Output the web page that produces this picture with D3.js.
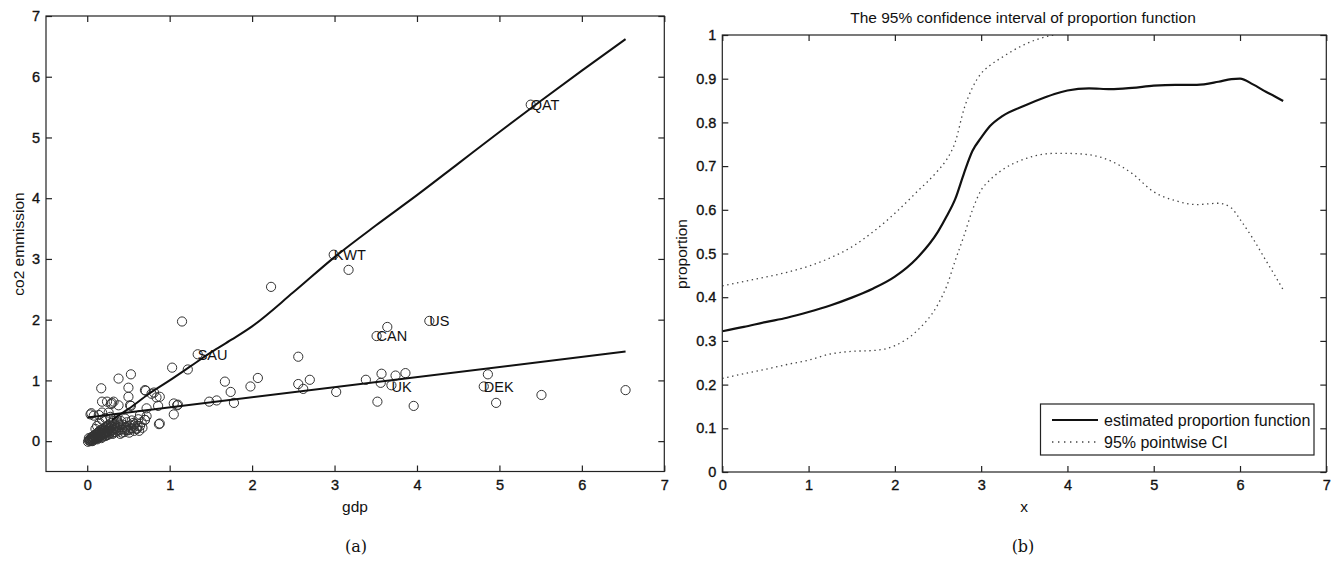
<!DOCTYPE html>
<html>
<head>
<meta charset="utf-8">
<script src="https://cdn.jsdelivr.net/npm/d3@7"></script>
<style>
  html, body { margin: 0; padding: 0; background: #fff; }
  svg { display: block; }
  text { font-family: "Liberation Sans", Arial, Helvetica, sans-serif; fill: #111; }
  .caption { font-family: "DejaVu Serif", "Liberation Serif", serif; }
</style>
</head>
<body>
<svg id="fig" width="1335" height="568"></svg>
<script>
// ---------- panel (a): per-capita GDP vs CO2 emission ----------
const gdp = [
  5.38, 2.99, 3.17, 2.23, 1.15, 1.34, 4.15, 3.64, 3.51, 2.56,
  1.03, 1.22, 0.53, 0.38, 1.67, 2.07, 1.98, 1.74, 1.78, 2.56,
  2.70, 2.62, 3.02, 3.38, 3.57, 3.56, 3.74, 3.86, 3.69, 3.52,
  3.96, 4.86, 4.81, 4.96, 5.51, 6.53, 0.17, 0.18, 0.50, 0.71,
  0.81, 0.88, 1.05, 1.05, 0.87, 1.48, 1.57, 0.32, 0.29, 0.53,
  0.04, 0.05, 0.18, 0.24, 0.30, 0.38, 0.52, 0.50, 0.70, 0.78,
  0.84, 0.86, 0.72, 0.70, 0.88, 1.09, 0.64, 0.56, 0.48, 0.60,
  0.08, 0.14, 0.26, 1.10,
  0.01, 0.02, 0.03, 0.02, 0.04, 0.05, 0.05, 0.06, 0.07, 0.07,
  0.08, 0.09, 0.09, 0.10, 0.11, 0.11, 0.12, 0.13, 0.13, 0.14,
  0.15, 0.15, 0.16, 0.17, 0.18, 0.18, 0.19, 0.20, 0.20, 0.21,
  0.22, 0.23, 0.23, 0.24, 0.25, 0.26, 0.26, 0.27, 0.28, 0.29,
  0.30, 0.30, 0.31, 0.32, 0.33, 0.34, 0.35, 0.36, 0.37, 0.38,
  0.39, 0.40, 0.41, 0.42, 0.43, 0.45, 0.46, 0.47, 0.48, 0.50,
  0.52, 0.54, 0.55, 0.58, 0.60, 0.62, 0.64, 0.66, 0.70, 0.72,
  0.12, 0.15, 0.18, 0.22, 0.28, 0.10,
  0.03, 0.04, 0.06, 0.06, 0.08, 0.08, 0.10, 0.10, 0.12, 0.12,
  0.14, 0.14, 0.16, 0.16, 0.17, 0.19, 0.19, 0.21, 0.21, 0.22,
  0.24, 0.24, 0.25, 0.27, 0.27, 0.29, 0.29, 0.31, 0.32, 0.33,
  0.35, 0.36, 0.37, 0.39, 0.40, 0.42, 0.44, 0.46, 0.49, 0.51,
  0.53, 0.56, 0.57, 0.61, 0.63, 0.67
];
const co2 = [
  5.54, 3.07, 2.82, 2.54, 1.97, 1.43, 1.98, 1.88, 1.73, 1.39,
  1.21, 1.18, 1.10, 1.03, 0.98, 1.04, 0.90, 0.81, 0.63, 0.94,
  1.01, 0.86, 0.81, 1.01, 1.11, 0.96, 1.08, 1.12, 0.92, 0.65,
  0.58, 1.10, 0.90, 0.63, 0.76, 0.84, 0.87, 0.65, 0.88, 0.83,
  0.80, 0.73, 0.62, 0.44, 0.28, 0.65, 0.67, 0.65, 0.61, 0.58,
  0.44, 0.46, 0.47, 0.65, 0.63, 0.59, 0.59, 0.73, 0.84, 0.78,
  0.72, 0.58, 0.54, 0.35, 0.29, 0.59, 0.43, 0.26, 0.18, 0.21,
  0.42, 0.43, 0.47, 0.60,
  -0.01, 0.01, 0.03, 0.05, 0.00, 0.02, 0.06, 0.04, 0.01, 0.08,
  0.05, 0.03, 0.10, 0.07, 0.04, 0.12, 0.09, 0.06, 0.14, 0.11,
  0.08, 0.16, 0.13, 0.10, 0.18, 0.07, 0.14, 0.11, 0.21, 0.17,
  0.13, 0.24, 0.09, 0.19, 0.15, 0.27, 0.11, 0.22, 0.17, 0.30,
  0.13, 0.24, 0.19, 0.33, 0.15, 0.26, 0.21, 0.36, 0.17, 0.29,
  0.23, 0.12, 0.33, 0.19, 0.27, 0.15, 0.37, 0.22, 0.31, 0.18,
  0.26, 0.34, 0.21, 0.28, 0.20, 0.36, 0.25, 0.31, 0.35, 0.41,
  0.25, 0.30, 0.35, 0.38, 0.40, 0.20,
  0.01, 0.03, 0.00, 0.07, 0.03, 0.09, 0.05, 0.11, 0.03, 0.13,
  0.06, 0.15, 0.09, 0.18, 0.05, 0.11, 0.20, 0.08, 0.14, 0.22,
  0.10, 0.17, 0.25, 0.13, 0.20, 0.16, 0.24, 0.12, 0.21, 0.28,
  0.15, 0.24, 0.31, 0.18, 0.27, 0.14, 0.23, 0.19, 0.25, 0.14,
  0.21, 0.30, 0.17, 0.25, 0.17, 0.22
];

// labelled countries
const countryNames = ["QAT", "KWT", "SAU", "CAN", "US", "UK", "DEK"];
const countryGdp   = [5.38, 2.99, 1.34, 3.51, 4.15, 3.69, 4.81];
const countryCo2   = [5.54, 3.07, 1.43, 1.73, 1.98, 0.90, 0.90];

// the two fitted regression curves
const fitHighX = [0.30, 0.50, 0.75, 1.00, 1.25, 1.50, 1.75, 2.00, 2.50, 3.00, 3.50, 4.00, 4.50, 5.00, 5.50, 6.00, 6.53];
const fitHighY = [0.35, 0.53, 0.78, 1.00, 1.23, 1.46, 1.67, 1.89, 2.45, 3.03, 3.55, 4.05, 4.57, 5.09, 5.60, 6.10, 6.62];
const fitLowX  = [0.00, 6.53];
const fitLowY  = [0.39, 1.475];

const ticksA = [0, 1, 2, 3, 4, 5, 6, 7];

// ---------- panel (b): estimated proportion with pointwise CI ----------
const gridX = [0, 0.25, 0.5, 0.75, 1, 1.25, 1.5, 1.75, 2, 2.25, 2.5, 2.6, 2.7, 2.8, 2.9, 3, 3.1, 3.25, 3.5, 3.75, 3.85,
               4, 4.25, 4.5, 4.75, 5, 5.25, 5.5, 5.75, 5.9, 6, 6.15, 6.3, 6.4, 6.5];
const estimate = [0.322, 0.332, 0.343, 0.353, 0.366, 0.381, 0.399, 0.420, 0.447, 0.488, 0.550, 0.585, 0.625, 0.683, 0.735,
                  0.765, 0.791, 0.815, 0.838, 0.858, 0.865,
                  0.873, 0.878, 0.876, 0.879, 0.884, 0.886, 0.886, 0.893, 0.899, 0.900, 0.887, 0.870, 0.860, 0.849];
const upperCI = [0.426, 0.436, 0.446, 0.457, 0.471, 0.490, 0.515, 0.550, 0.592, 0.640, 0.690, 0.715, 0.755, 0.830, 0.880,
                 0.912, 0.930, 0.950, 0.978, 0.996, 1.000,
                 null, null, null, null, null, null, null, null, null, null, null, null, null, null];
const lowerCI = [0.214, 0.225, 0.235, 0.246, 0.256, 0.270, 0.276, 0.278, 0.289, 0.322, 0.384, 0.425, 0.484, 0.540, 0.600,
                 0.645, 0.668, 0.692, 0.716, 0.728, 0.729,
                 0.729, 0.726, 0.712, 0.683, 0.641, 0.621, 0.612, 0.615, 0.604, 0.578, 0.534, 0.484, 0.451, 0.417];
const ticksBX = [0, 1, 2, 3, 4, 5, 6, 7];
const ticksBY = [0, 0.1, 0.2, 0.3, 0.4, 0.5, 0.6, 0.7, 0.8, 0.9, 1];

const svg = d3.select("#fig");
const TICK = 6;

// MATLAB-style boxed axes: inward ticks on all four sides
function boxAxes(g, x, y, xt, yt, yFmt) {
  const [x0, x1] = x.range();
  const [y0, y1] = y.range();
  g.append("g").attr("transform", `translate(0,${y0})`)
    .call(d3.axisBottom(x).tickValues(xt).tickSize(-TICK).tickSizeOuter(0).tickPadding(8).tickFormat(d3.format("d")));
  g.append("g").attr("transform", `translate(0,${y1})`)
    .call(d3.axisTop(x).tickValues(xt).tickSize(-TICK).tickSizeOuter(0).tickFormat(""));
  g.append("g").attr("transform", `translate(${x0},0)`)
    .call(d3.axisLeft(y).tickValues(yt).tickSize(-TICK).tickSizeOuter(0).tickPadding(6).tickFormat(yFmt));
  g.append("g").attr("transform", `translate(${x1},0)`)
    .call(d3.axisRight(y).tickValues(yt).tickSize(-TICK).tickSizeOuter(0).tickFormat(""));
  g.selectAll(".domain").remove();
  g.selectAll(".tick line").attr("stroke", "#222").attr("stroke-width", 1.2);
  g.selectAll(".tick text").attr("font-size", 14.5).attr("fill", "#111")
    .attr("stroke", "#111").attr("stroke-width", 0.35)
    .style("font-family", '"Liberation Sans", Arial, sans-serif');
  g.append("rect").attr("x", x0).attr("y", y1).attr("width", x1 - x0).attr("height", y0 - y1)
    .attr("fill", "none").attr("stroke", "#222").attr("stroke-width", 1.2);
}

// ---- panel (a)
const xA = d3.scaleLinear().domain([-0.5, 7]).range([46, 664.3]);
const yA = d3.scaleLinear().domain([-0.5, 7]).range([471.5, 16]);
const gA = svg.append("g");

const pts = gdp.map((v, i) => [v, co2[i]]);
gA.append("g").selectAll("circle").data(pts).join("circle")
  .attr("cx", d => xA(d[0])).attr("cy", d => yA(d[1])).attr("r", 4.6)
  .attr("fill", "none").attr("stroke", "#333").attr("stroke-width", 1);

const lineA = d3.line().x(d => xA(d[0])).y(d => yA(d[1])).curve(d3.curveMonotoneX);
gA.append("path").datum(fitHighX.map((v, i) => [v, fitHighY[i]])).attr("d", lineA)
  .attr("fill", "none").attr("stroke", "#111").attr("stroke-width", 2);
gA.append("path").datum(fitLowX.map((v, i) => [v, fitLowY[i]])).attr("d", lineA)
  .attr("fill", "none").attr("stroke", "#111").attr("stroke-width", 2);

gA.append("g").selectAll("text").data(countryNames).join("text")
  .attr("x", (d, i) => xA(countryGdp[i]))
  .attr("y", (d, i) => yA(countryCo2[i]))
  .attr("dy", "0.36em").attr("font-size", 14.5).text(d => d);

boxAxes(gA, xA, yA, ticksA, ticksA, d3.format("d"));

gA.append("text").attr("x", 355).attr("y", 512).attr("text-anchor", "middle").attr("font-size", 15.5).text("gdp");
gA.append("text").attr("transform", "translate(24,244) rotate(-90)").attr("text-anchor", "middle")
  .attr("font-size", 15.5).text("co2 emmission");
gA.append("text").attr("class", "caption").attr("x", 356).attr("y", 552).attr("text-anchor", "middle")
  .attr("font-size", 16).text("(a)");

// ---- panel (b)
const xB = d3.scaleLinear().domain([0, 7]).range([722.3, 1326.3]);
const yB = d3.scaleLinear().domain([0, 1]).range([472, 35]);
const gB = svg.append("g");

gB.append("defs").append("clipPath").attr("id", "clipB").append("rect")
  .attr("x", 722.3).attr("y", 35).attr("width", 604).attr("height", 437);

const lineB = d3.line().defined(d => d[1] !== null)
  .x(d => xB(d[0])).y(d => yB(d[1])).curve(d3.curveMonotoneX);
const plotB = gB.append("g").attr("clip-path", "url(#clipB)");
[upperCI, lowerCI].forEach(s => {
  plotB.append("path").datum(gridX.map((v, i) => [v, s[i]])).attr("d", lineB)
    .attr("fill", "none").attr("stroke", "#444").attr("stroke-width", 1.3).attr("stroke-dasharray", "1.4,3.6");
});
plotB.append("path").datum(gridX.map((v, i) => [v, estimate[i]])).attr("d", lineB)
  .attr("fill", "none").attr("stroke", "#111").attr("stroke-width", 2.2);

boxAxes(gB, xB, yB, ticksBX, ticksBY, d => d3.format("")(+d.toFixed(1)));

gB.append("text").attr("x", 1023).attr("y", 23).attr("text-anchor", "middle").attr("font-size", 15.5)
  .text("The 95% confidence interval of proportion function");
gB.append("text").attr("x", 1024).attr("y", 512).attr("text-anchor", "middle").attr("font-size", 15.5).text("x");
gB.append("text").attr("transform", "translate(687,254) rotate(-90)").attr("text-anchor", "middle")
  .attr("font-size", 15.5).text("proportion");
gB.append("text").attr("class", "caption").attr("x", 1023).attr("y", 552).attr("text-anchor", "middle")
  .attr("font-size", 16).text("(b)");

// legend
const legend = gB.append("g");
legend.append("rect").attr("x", 1040.5).attr("y", 404).attr("width", 273.5).attr("height", 51)
  .attr("fill", "#fff").attr("stroke", "#222").attr("stroke-width", 1.2);
const legendItems = [
  { label: "estimated proportion function", dash: null, width: 2.2, color: "#111" },
  { label: "95% pointwise CI", dash: "1.4,4.6", width: 1.3, color: "#444" }
];
legendItems.forEach((it, i) => {
  const yy = 420 + i * 22;
  legend.append("line").attr("x1", 1052).attr("x2", 1098).attr("y1", yy).attr("y2", yy)
    .attr("stroke", it.color).attr("stroke-width", it.width)
    .attr("stroke-dasharray", it.dash);
  legend.append("text").attr("x", 1104).attr("y", yy).attr("dy", "0.36em").attr("font-size", 16).text(it.label);
});
</script>
</body>
</html>
